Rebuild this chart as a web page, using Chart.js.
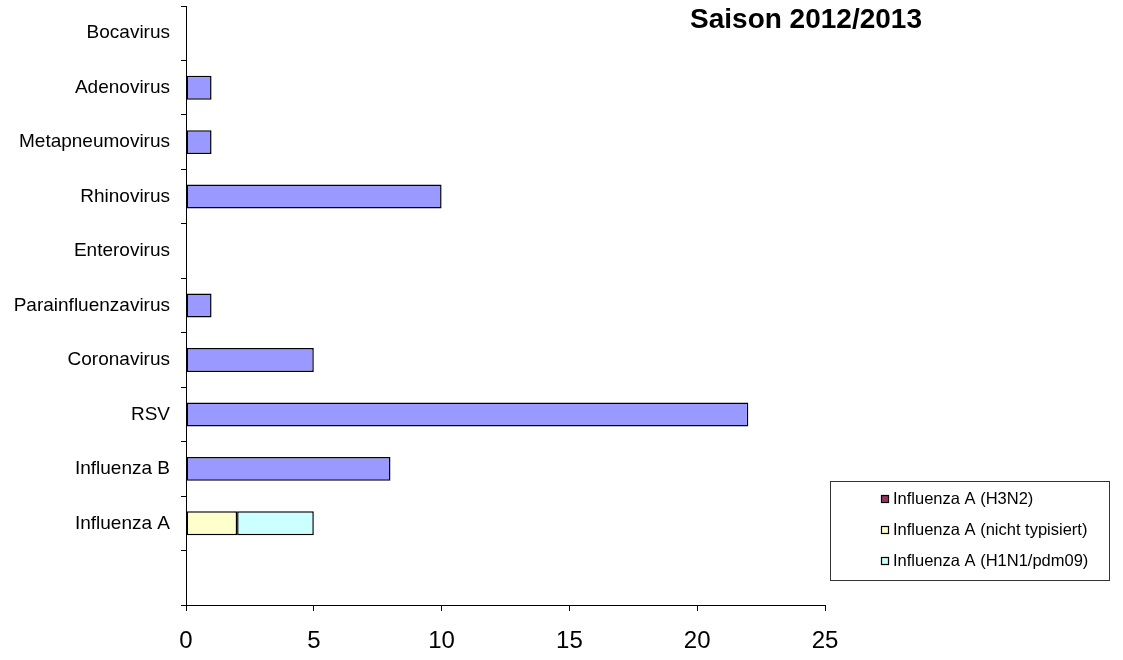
<!DOCTYPE html>
<html>
<head>
<meta charset="utf-8">
<script src="https://cdn.jsdelivr.net/npm/chart.js@4/dist/chart.umd.min.js"></script>
<style>
  html, body { margin: 0; padding: 0; background: #fff; }
  #wrap { width: 1123px; height: 660px; }
</style>
</head>
<body>
<div id="wrap"><canvas id="chart" width="1123" height="660"></canvas></div>
<script>
// categories from top to bottom (last one is an empty slot)
const categories = ['Bocavirus', 'Adenovirus', 'Metapneumovirus', 'Rhinovirus', 'Enterovirus',
    'Parainfluenzavirus', 'Coronavirus', 'RSV', 'Influenza B', 'Influenza A', ''];

const virusCounts = [null, 1, 1, 10, null, 1, 5, 22, 8, null, null];
const fluNichtTypisiert = [null, null, null, null, null, null, null, null, null, 2, null];
const fluH1N1 = [null, null, null, null, null, null, null, null, null, 3, null];
const fluH3N2 = [null, null, null, null, null, null, null, null, null, null, null];

const xTicks = [0, 5, 10, 15, 20, 25];
const chartTitle = 'Saison 2012/2013';

const FONT = '"Liberation Sans", Arial, sans-serif';

/**
 * Draw the title and the boxed legend at fixed spots, like the original sheet
 */
const decorations = {
    id: 'decorations',
    afterDraw(chart) {
        const ctx = chart.ctx;
        ctx.save();

        ctx.fillStyle = '#000';
        ctx.font = 'bold 28px ' + FONT;
        ctx.textAlign = 'center';
        ctx.textBaseline = 'middle';
        ctx.fillText(chartTitle, 806, 20);

        // legend box
        ctx.strokeStyle = '#333';
        ctx.lineWidth = 1;
        ctx.strokeRect(830.5, 481.5, 279, 99);

        let order = [3, 1, 2];
        ctx.font = '16.5px ' + FONT;
        ctx.textAlign = 'left';
        order.forEach((idx, i) => {
            let ds = chart.data.datasets[idx];
            let y = 499 + i * 31;
            ctx.fillStyle = ds.backgroundColor;
            ctx.fillRect(881, y - 4, 8, 8);
            ctx.strokeStyle = '#000';
            ctx.lineWidth = 1.2;
            ctx.strokeRect(881.5, y - 3.5, 7, 7);
            ctx.fillStyle = '#000';
            ctx.fillText(ds.label, 893, y);
        });

        ctx.restore();
    }
};

const barDefaults = {
    borderColor: '#000',
    borderWidth: 1.5,
    borderSkipped: false,
    categoryPercentage: 1.0,
    barPercentage: 0.44
};

new Chart(document.getElementById('chart').getContext('2d'), {
    type: 'bar',
    data: {
        labels: categories,
        datasets: [
            Object.assign({ label: 'Viren', data: virusCounts, backgroundColor: '#9999ff' }, barDefaults),
            Object.assign({ label: 'Influenza A (nicht typisiert)', data: fluNichtTypisiert, backgroundColor: '#ffffcc' }, barDefaults),
            Object.assign({ label: 'Influenza A (H1N1/pdm09)', data: fluH1N1, backgroundColor: '#ccffff' }, barDefaults),
            Object.assign({ label: 'Influenza A (H3N2)', data: fluH3N2, backgroundColor: '#993366' }, barDefaults)
        ]
    },
    options: {
        indexAxis: 'y',
        responsive: false,
        animation: false,
        layout: { padding: { top: 6, right: 298, left: 0, bottom: 0 } },
        scales: {
            x: {
                stacked: true,
                min: 0,
                max: 25,
                afterBuildTicks: (scale) => { scale.ticks = xTicks.map(v => ({ value: v })); },
                afterFit: (scale) => { scale.height = 55; },
                grid: { drawOnChartArea: false, tickLength: 6, color: '#000' },
                border: { color: '#000', width: 1 },
                ticks: {
                    color: '#000',
                    padding: 16,
                    font: { size: 24, family: FONT }
                }
            },
            y: {
                stacked: true,
                offset: true,
                afterFit: (scale) => {
                    scale.width = 186;
                    scale.paddingTop = 0;
                    scale.paddingBottom = 0;
                },
                grid: { offset: true, drawOnChartArea: false, tickLength: 5, color: '#000' },
                border: { color: '#000', width: 1 },
                ticks: {
                    color: '#000',
                    padding: 11,
                    font: { size: 19, family: FONT }
                }
            }
        },
        plugins: {
            legend: { display: false },
            tooltip: { enabled: false }
        }
    },
    plugins: [decorations]
});
</script>
</body>
</html>
